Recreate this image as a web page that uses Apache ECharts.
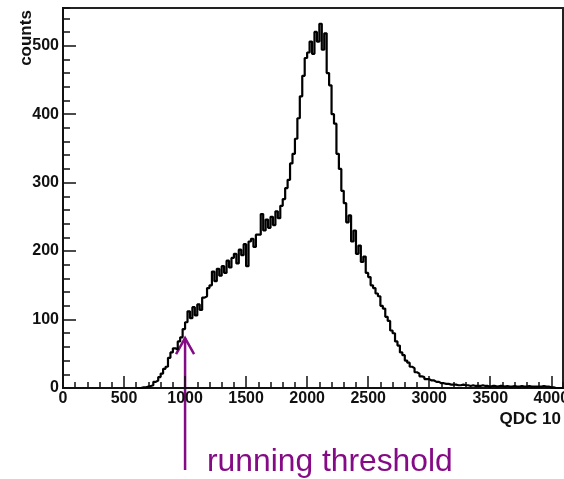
<!DOCTYPE html>
<html><head><meta charset="utf-8">
<script src="https://cdn.jsdelivr.net/npm/echarts@6/dist/echarts.min.js"></script>
<style>html,body{margin:0;padding:0;background:#fff}#c{width:564px;height:479px}</style>
</head><body><div id="c"></div>
<script>
// ---- data ----
const binStart = 600;     // lower edge of first bin (QDC channel)
const binWidth = 20;      // QDC channels per bin
const counts = [
  0, 0, 1, 1, 2,            // 600-680
  3, 4, 9, 11, 16,          // 700
  21, 28, 31, 44, 52,       // 800
  58, 56, 68, 74, 86,       // 900
  96, 112, 102, 118, 106,   // 1000
  122, 114, 132, 134, 146,  // 1100
  150, 170, 156, 174, 164,  // 1200
  178, 168, 186, 176, 190,  // 1300
  196, 182, 202, 194, 210,  // 1400
  178, 214, 218, 206, 224,  // 1500
  224, 254, 230, 246, 234,  // 1600
  250, 238, 258, 248, 266,  // 1700
  276, 292, 304, 328, 342,  // 1800
  364, 394, 426, 456, 482,  // 1900
  490, 506, 488, 520, 506,  // 2000
  532, 494, 518, 460, 442,  // 2100
  400, 386, 342, 320, 288,  // 2200
  270, 242, 252, 214, 230,  // 2300
  196, 208, 184, 192, 168,  // 2400
  162, 150, 146, 138, 134,  // 2500
  120, 116, 104, 98, 84,    // 2600
  80, 68, 62, 52, 48,       // 2700
  40, 37, 31, 29, 23,       // 2800
  21, 17, 16, 13, 13,       // 2900
  11, 11, 9, 9, 7,          // 3000
  7, 6, 6, 5, 5,            // 3100
  5, 4, 4, 5, 4,            // 3200
  4, 3, 4, 3, 3,            // 3300
  3, 4, 3, 3, 2,            // 3400
  3, 3, 2, 3, 3,            // 3500
  2, 3, 2, 2, 3,            // 3600
  2, 2, 3, 2, 2,            // 3700
  3, 2, 2, 2, 2,            // 3800
  2, 3, 2, 2, 1,            // 3900
  1, 0, 0, 0, 0             // 4000
];
const xMax = 4096;
const yMax = 555;
const xMajor = 500, xMinor = 100;
const yMajor = 100, yMinor = 20;
const xTitle = 'QDC 10';
const yTitle = 'counts';
const annotationText = 'running threshold';
const thresholdQDC = 1000;
const arrowTipCounts = 73;

// ---- chart ----
const points = counts.map((c, i) => [binStart + i * binWidth, c]);
points.push([binStart + counts.length * binWidth, 0]);

const chart = echarts.init(document.getElementById('c'), null, {renderer: 'canvas'});
const lblFont = {fontFamily: 'Liberation Sans, Arial, sans-serif', fontWeight: 'bold', fontSize: 16, color: '#111',
  formatter: v => String(v)};
const grid = {left: 63, top: 8, right: 1, bottom: 91, show: true, borderColor: '#222', borderWidth: 2,
  backgroundColor: 'transparent', containLabel: false, outerBoundsMode: 'none'};

const baseX = {type: 'value', min: 0, max: xMax, position: 'bottom', splitLine: {show: false},
  axisLine: {show: true, onZero: false, lineStyle: {color: '#111', width: 2}}};
const baseY = {type: 'value', min: 0, max: yMax, position: 'left', splitLine: {show: false},
  axisLine: {show: true, onZero: false, lineStyle: {color: '#111', width: 2}}};

chart.setOption({
  animation: false,
  backgroundColor: '#fff',
  grid: grid,
  xAxis: [
    Object.assign({}, baseX, {interval: xMajor,
      axisTick: {show: true, inside: true, length: 12, lineStyle: {color: '#111', width: 1.5}},
      axisLabel: Object.assign({margin: 3, showMaxLabel: false, hideOverlap: false}, lblFont)}),
    Object.assign({}, baseX, {interval: xMinor,
      axisTick: {show: true, inside: true, length: 6, lineStyle: {color: '#111', width: 1.5}},
      axisLabel: {show: false}})
  ],
  yAxis: [
    Object.assign({}, baseY, {interval: yMajor,
      axisTick: {show: true, inside: true, length: 13, lineStyle: {color: '#111', width: 1.5}},
      axisLabel: Object.assign({margin: 4, showMaxLabel: false}, lblFont)}),
    Object.assign({}, baseY, {interval: yMinor,
      axisTick: {show: true, inside: true, length: 7, lineStyle: {color: '#111', width: 1.5}},
      axisLabel: {show: false}})
  ],
  series: [{
    type: 'line', xAxisIndex: 0, yAxisIndex: 0, step: 'end', showSymbol: false, symbol: 'none',
    data: points, lineStyle: {color: '#000', width: 2.2}, silent: true, clip: true
  }]
});

const tip = chart.convertToPixel({gridIndex: 0}, [thresholdQDC, arrowTipCounts]);
const purple = '#850a85';
chart.setOption({
  graphic: [
    {type: 'text', x: 26, y: 38, rotation: Math.PI / 2,
      style: {text: yTitle, fill: '#111', font: 'bold 17px "Liberation Sans", Arial, sans-serif', align: 'center', verticalAlign: 'middle'}},
    {type: 'text', x: 561, y: 419,
      style: {text: xTitle, fill: '#111', font: 'bold 17px "Liberation Sans", Arial, sans-serif', align: 'right', verticalAlign: 'middle'}},
    {type: 'polyline', shape: {points: [[tip[0], tip[1]], [tip[0], 470]]}, style: {stroke: purple, lineWidth: 2.5, fill: null}},
    {type: 'polyline', shape: {points: [[tip[0] - 9, tip[1] + 16], [tip[0], tip[1]], [tip[0] + 9, tip[1] + 16]]}, style: {stroke: purple, lineWidth: 2.5, fill: null}},
    {type: 'text', x: 207, y: 462,
      style: {text: annotationText, fill: purple, font: '31.8px "Liberation Sans", Arial, sans-serif', align: 'left', verticalAlign: 'middle'}}
  ]
});
</script></body></html>
